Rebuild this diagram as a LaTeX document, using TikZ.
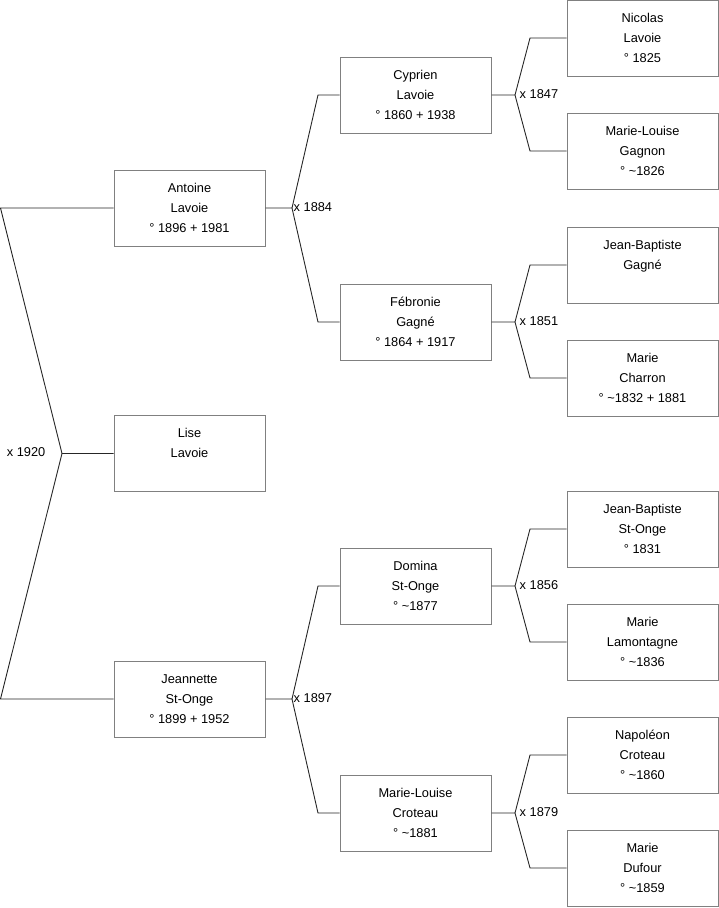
\documentclass[tikz,border=0pt]{standalone}
\usepackage{fontspec}
\setmainfont{Liberation Sans}
\newcommand{\pplines}[3]{\strut #1\\\strut #2\\\strut #3}
\begin{document}
\begin{tikzpicture}[x=1pt,y=-1pt,
  person/.style={draw=black!50,line width=1pt,fill=white,minimum width=151pt,minimum height=76pt,
    inner sep=0pt,align=center,font=\fontsize{12.8}{20}\selectfont},
  link/.style={draw=black!85,line width=0.9pt},
  marr/.style={font=\fontsize{12.8}{14}\selectfont,inner sep=0pt}]
\useasboundingbox (0,0) rectangle (719,908);
% column 1
\node[person] (antoine) at (189.5,208) {\pplines{Antoine}{Lavoie}{° 1896 + 1981}};
\node[person] (lise) at (189.5,453.5) {\pplines{Lise}{Lavoie}{}};
\node[person] (jeannette) at (189.5,699) {\pplines{Jeannette}{St-Onge}{° 1899 + 1952}};
% column 2
\node[person] (cyprien) at (415.5,95) {\pplines{Cyprien}{Lavoie}{° 1860 + 1938}};
\node[person] (febronie) at (415.5,322) {\pplines{Fébronie}{Gagné}{° 1864 + 1917}};
\node[person] (domina) at (415.5,586) {\pplines{Domina}{St-Onge}{° \textasciitilde1877}};
\node[person] (mlcroteau) at (415.5,813) {\pplines{Marie-Louise}{Croteau}{° \textasciitilde1881}};
% column 3
\node[person] (nicolas) at (642.5,38) {\pplines{Nicolas}{Lavoie}{° 1825}};
\node[person] (mlgagnon) at (642.5,151) {\pplines{Marie-Louise}{Gagnon}{° \textasciitilde1826}};
\node[person] (jbgagne) at (642.5,265) {\pplines{Jean-Baptiste}{Gagné}{}};
\node[person] (mcharron) at (642.5,378) {\pplines{Marie}{Charron}{° \textasciitilde1832 + 1881}};
\node[person] (jbstonge) at (642.5,529) {\pplines{Jean-Baptiste}{St-Onge}{° 1831}};
\node[person] (mlamontagne) at (642.5,642) {\pplines{Marie}{Lamontagne}{° \textasciitilde1836}};
\node[person] (napoleon) at (642.5,755) {\pplines{Napoléon}{Croteau}{° \textasciitilde1860}};
\node[person] (mdufour) at (642.5,868) {\pplines{Marie}{Dufour}{° \textasciitilde1859}};
% junctions
\coordinate (j0) at (62,453.5);
\coordinate (e0a) at (0.5,208);
\coordinate (e0b) at (0.5,699);
\coordinate (j1a) at (292,208);
\coordinate (e1a) at (318,95);
\coordinate (e1b) at (318,322);
\coordinate (j1b) at (292,699);
\coordinate (e1c) at (318,586);
\coordinate (e1d) at (318,813);
\coordinate (j2a) at (515,95);
\coordinate (e2a) at (530,38);
\coordinate (e2b) at (530,151);
\coordinate (j2b) at (515,322);
\coordinate (e2c) at (530,265);
\coordinate (e2d) at (530,378);
\coordinate (j2c) at (515,586);
\coordinate (e2e) at (530,529);
\coordinate (e2f) at (530,642);
\coordinate (j2d) at (515,813);
\coordinate (e2g) at (530,755);
\coordinate (e2h) at (530,868);
% connectors
\draw[link] (lise.west) -- (j0) -- (e0a) -- (antoine.west);
\draw[link] (j0) -- (e0b) -- (jeannette.west);
\draw[link] (antoine.east) -- (j1a) -- (e1a) -- (cyprien.west);
\draw[link] (j1a) -- (e1b) -- (febronie.west);
\draw[link] (jeannette.east) -- (j1b) -- (e1c) -- (domina.west);
\draw[link] (j1b) -- (e1d) -- (mlcroteau.west);
\draw[link] (cyprien.east) -- (j2a) -- (e2a) -- (nicolas.west);
\draw[link] (j2a) -- (e2b) -- (mlgagnon.west);
\draw[link] (febronie.east) -- (j2b) -- (e2c) -- (jbgagne.west);
\draw[link] (j2b) -- (e2d) -- (mcharron.west);
\draw[link] (domina.east) -- (j2c) -- (e2e) -- (jbstonge.west);
\draw[link] (j2c) -- (e2f) -- (mlamontagne.west);
\draw[link] (mlcroteau.east) -- (j2d) -- (e2g) -- (napoleon.west);
\draw[link] (j2d) -- (e2h) -- (mdufour.west);
% marriage labels
\node[marr,anchor=east] (m1920) at (45.5,452) {x 1920};
\node[marr,anchor=west] (m1884) at (293.5,207) {x 1884};
\node[marr,anchor=west] (m1897) at (293.5,698) {x 1897};
\node[marr,anchor=west] (m1847) at (519.5,94) {x 1847};
\node[marr,anchor=west] (m1851) at (519.5,321) {x 1851};
\node[marr,anchor=west] (m1856) at (519.5,585) {x 1856};
\node[marr,anchor=west] (m1879) at (519.5,812) {x 1879};
\end{tikzpicture}
\end{document}
